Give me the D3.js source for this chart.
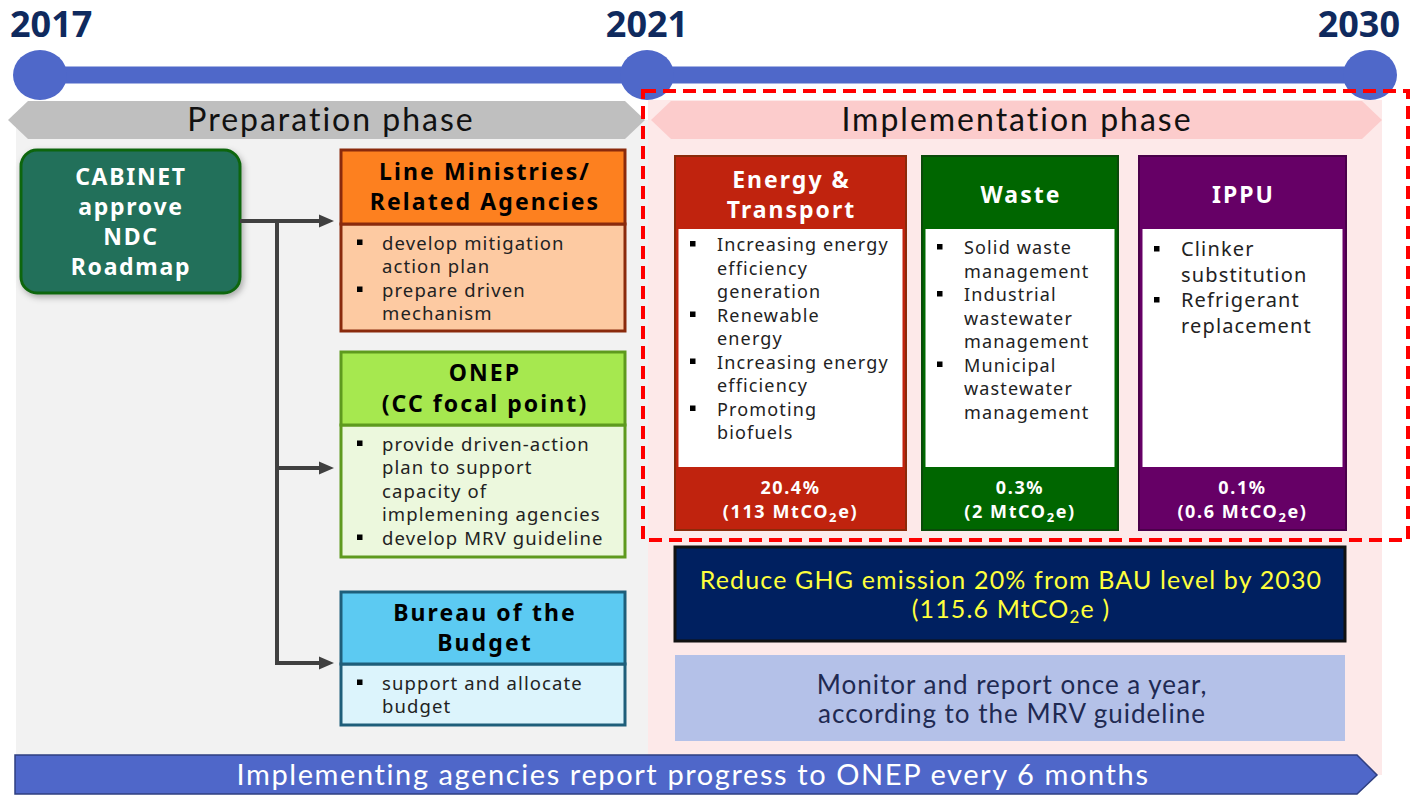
<!DOCTYPE html>
<html>
<head>
<meta charset="utf-8">
<script src="https://cdn.jsdelivr.net/npm/d3@7"></script>
<style>
  body { margin: 0; background: #fff; }
  svg { display: block; }
</style>
</head>
<body>
<svg id="chart" width="1412" height="795"></svg>
<script>
// ---- data ----
var years = [2017, 2021, 2030];
var phaseNames = ["Preparation phase", "Implementation phase"];
var cabinetLines = ["CABINET", "approve", "NDC", "Roadmap"];
var agencyTitles = [["Line Ministries/", "Related Agencies"], ["ONEP", "(CC focal point)"], ["Bureau of the", "Budget"]];
var agencyTasks = [
  [["develop mitigation", "action plan"], ["prepare driven", "mechanism"]],
  [["provide driven-action", "plan to support", "capacity of", "implemening agencies"], ["develop MRV guideline"]],
  [["support and allocate", "budget"]]
];
var sectorNames = [["Energy &", "Transport"], ["Waste"], ["IPPU"]];
var sectorMeasures = [
  [["Increasing energy", "efficiency", "generation"], ["Renewable", "energy"], ["Increasing energy", "efficiency"], ["Promoting", "biofuels"]],
  [["Solid waste", "management"], ["Industrial", "wastewater", "management"], ["Municipal", "wastewater", "management"]],
  [["Clinker", "substitution"], ["Refrigerant", "replacement"]]
];
var sectorShare = ["20.4%", "0.3%", "0.1%"];
var sectorMt = ["113", "2", "0.6"];
var targetLine = "Reduce GHG emission 20% from BAU level by 2030";
var targetMt = "115.6";
var monitorLines = ["Monitor and report once a year,", "according to the MRV guideline"];
var reportText = "Implementing agencies report progress to ONEP every 6 months";

// ---- layout ----
var svg = d3.select("#chart");
var x = d3.scaleLinear().domain(years).range([40, 647, 1370]);
var SANS = "'Noto Sans', 'Open Sans', sans-serif";
var NARROW = "Lato, 'Noto Sans', sans-serif";

var defs = svg.append("defs");
var sh = defs.append("filter").attr("id", "shadow").attr("x", "-10%").attr("y", "-10%").attr("width", "130%").attr("height", "130%");
sh.append("feDropShadow").attr("dx", 2).attr("dy", 3).attr("stdDeviation", 3).attr("flood-color", "#000").attr("flood-opacity", 0.3);

function chevron(x0, x1, y0, y1, n) {
  var ym = (y0 + y1) / 2;
  return [[x0, ym], [x0 + n, y0], [x1 - n, y0], [x1, ym], [x1 - n, y1], [x0 + n, y1]].join(" ");
}

// one <text> with a tspan per line
function multiline(g, lines, x0, y0, step) {
  var t = g.append("text").attr("x", x0).attr("y", y0);
  t.selectAll("tspan").data(lines).enter().append("tspan")
    .attr("x", x0).attr("dy", function(d, i) { return i == 0 ? 0 : step; })
    .text(function(d) { return d; });
  return t;
}

// phase panels
svg.append("rect").attr("x", 16).attr("y", 120).attr("width", x(2021) - 15).attr("height", 640).attr("fill", "#f2f2f2");
svg.append("rect").attr("x", x(2021) + 1).attr("y", 100).attr("width", 1382 - x(2021) - 1).attr("height", 675).attr("fill", "#fde9e9");

svg.append("polygon").attr("points", chevron(8, 645, 101, 139, 20)).attr("fill", "#bfbfbf");
svg.append("polygon").attr("points", chevron(651, 1382, 101, 139, 20)).attr("fill", "#fccccc");
svg.selectAll("text.phase").data(phaseNames).enter().append("text")
  .attr("class", "phase")
  .attr("x", function(d, i) { return i == 0 ? 331 : 1017; })
  .attr("y", 131)
  .attr("text-anchor", "middle")
  .attr("font-family", NARROW).attr("font-size", 32).attr("letter-spacing", 2).attr("fill", "#111")
  .text(function(d) { return d; });

// timeline
svg.append("line").attr("x1", x(2017)).attr("x2", x(2030)).attr("y1", 75).attr("y2", 75)
  .attr("stroke", "#4f68c9").attr("stroke-width", 17);
svg.selectAll("ellipse.yr").data(years).enter().append("ellipse")
  .attr("class", "yr")
  .attr("cx", function(d) { return x(d); }).attr("cy", 75)
  .attr("rx", 27).attr("ry", 25).attr("fill", "#4f68c9");
svg.selectAll("text.yr").data(years).enter().append("text")
  .attr("class", "yr")
  .attr("x", function(d, i) { return i == 0 ? x(d) - 30 : i == years.length - 1 ? x(d) + 30 : x(d); })
  .attr("y", 37)
  .attr("text-anchor", function(d, i) { return i == 0 ? "start" : i == years.length - 1 ? "end" : "middle"; })
  .attr("font-family", SANS).attr("font-weight", "bold").attr("font-size", 36).attr("fill", "#0f2a5e")
  .text(function(d) { return d; });

// red dashed frame
svg.append("rect").attr("x", 643).attr("y", 91).attr("width", 765).attr("height", 449)
  .attr("fill", "none").attr("stroke", "#ff0000").attr("stroke-width", 4).attr("stroke-dasharray", "13 7");

// cabinet
svg.append("rect").attr("x", 21).attr("y", 150).attr("width", 219).attr("height", 143).attr("rx", 16)
  .attr("fill", "#236f5a").attr("stroke", "#116611").attr("stroke-width", 3).attr("filter", "url(#shadow)");
multiline(svg, cabinetLines, 131, 184.5, 30.3)
  .attr("text-anchor", "middle")
  .attr("font-family", SANS).attr("font-weight", "bold").attr("font-size", 23).attr("letter-spacing", 1.7).attr("fill", "#fff");

// agency boxes
var agencyTop = [150, 352, 592];
var headH = [74, 73, 72];
var bodyH = [107, 132, 61];
var headFill = ["#fd801f", "#a6e84f", "#5ccaf2"];
var bodyFill = ["#fdcaa2", "#ecf8dd", "#dcf4fc"];
var boxStroke = ["#8a2a0c", "#5e9a1e", "#1e5e7a"];
var arrowY = [221, 468, 663];

// connectors
var conn = svg.append("g").attr("stroke", "#404040").attr("stroke-width", 4).attr("fill", "none");
conn.append("path").attr("d", "M240," + arrowY[0] + "H322");
conn.append("path").attr("d", "M277," + arrowY[0] + "V" + arrowY[2] + "H322");
conn.append("path").attr("d", "M277," + arrowY[1] + "H322");
svg.selectAll("polygon.arr").data(arrowY).enter().append("polygon")
  .attr("class", "arr")
  .attr("points", function(d) { return [[319, d - 6.5], [334, d], [319, d + 6.5]].join(" "); })
  .attr("fill", "#404040");

var ag = svg.selectAll("g.agency").data(agencyTitles).enter().append("g").attr("class", "agency");
ag.append("rect").attr("x", 341).attr("y", function(d, i) { return agencyTop[i] + headH[i]; })
  .attr("width", 284).attr("height", function(d, i) { return bodyH[i]; })
  .attr("fill", function(d, i) { return bodyFill[i]; }).attr("stroke", function(d, i) { return boxStroke[i]; }).attr("stroke-width", 3);
ag.append("rect").attr("x", 341).attr("y", function(d, i) { return agencyTop[i]; })
  .attr("width", 284).attr("height", function(d, i) { return headH[i]; })
  .attr("fill", function(d, i) { return headFill[i]; }).attr("stroke", function(d, i) { return boxStroke[i]; }).attr("stroke-width", 3);
ag.each(function(d, i) {
  var g = d3.select(this);
  var cy = agencyTop[i] + headH[i] / 2;
  multiline(g, d, 485, cy + 8 - (d.length - 1) / 2 * 30.5, 30.5)
    .attr("text-anchor", "middle").attr("font-family", SANS).attr("font-weight", "bold")
    .attr("font-size", 23).attr("letter-spacing", 2.1).attr("fill", "#000");
  var line = 0;
  var by = agencyTop[i] + headH[i] + 25.5;
  agencyTasks[i].forEach(function(item) {
    g.append("rect").attr("x", 357).attr("y", by + line * 23.5 - 10).attr("width", 5.5).attr("height", 5.5).attr("fill", "#000");
    multiline(g, item, 382, by + line * 23.5, 23.5)
      .attr("font-family", SANS).attr("font-size", 18.5).attr("letter-spacing", 1.1).attr("fill", "#222");
    line += item.length;
  });
});

// sector boxes
var sectorX = [675, 922, 1139];
var sectorW = [231, 196, 207];
var sectorFill = ["#c0230e", "#006600", "#660066"];
var sectorStroke = ["#8b2a0a", "#0a4a0a", "#4a004a"];
var sectorFont = [18, 18, 20];
var sectorStep = [23.5, 23.5, 25.5];
var sectorFirst = [251, 254, 256];

var sg = svg.selectAll("g.sector").data(sectorNames).enter().append("g").attr("class", "sector");
sg.append("rect").attr("x", function(d, i) { return sectorX[i]; }).attr("y", 156)
  .attr("width", function(d, i) { return sectorW[i]; }).attr("height", 374)
  .attr("fill", function(d, i) { return sectorFill[i]; }).attr("stroke", function(d, i) { return sectorStroke[i]; }).attr("stroke-width", 2);
sg.append("rect").attr("x", function(d, i) { return sectorX[i] + 3.5; }).attr("y", 229)
  .attr("width", function(d, i) { return sectorW[i] - 7; }).attr("height", 238).attr("fill", "#fff");
sg.each(function(d, i) {
  var g = d3.select(this);
  var cx = sectorX[i] + sectorW[i] / 2;
  multiline(g, d, cx + 1, 203 - (d.length - 1) / 2 * 30, 30)
    .attr("text-anchor", "middle").attr("font-family", SANS).attr("font-weight", "bold")
    .attr("font-size", 23).attr("letter-spacing", 2).attr("fill", "#fff");
  var line = 0;
  sectorMeasures[i].forEach(function(item) {
    g.append("rect").attr("x", sectorX[i] + 15).attr("y", sectorFirst[i] + line * sectorStep[i] - 10)
      .attr("width", 5.5).attr("height", 5.5).attr("fill", "#000");
    multiline(g, item, sectorX[i] + 42, sectorFirst[i] + line * sectorStep[i], sectorStep[i])
      .attr("font-family", SANS).attr("font-size", sectorFont[i]).attr("letter-spacing", 1.15).attr("fill", "#222");
    line += item.length;
  });
  var t2 = g.append("text").attr("x", cx).attr("y", 494).attr("text-anchor", "middle")
    .attr("font-family", SANS).attr("font-weight", "bold").attr("font-size", 18).attr("letter-spacing", 1.6).attr("fill", "#fff");
  t2.append("tspan").attr("x", cx).text(sectorShare[i]);
  t2.append("tspan").attr("x", cx).attr("dy", 24).text("(" + sectorMt[i] + " MtCO");
  t2.append("tspan").attr("font-size", 13).attr("dy", 4).text("2");
  t2.append("tspan").attr("dy", -4).text("e)");
});

// target box
svg.append("rect").attr("x", 675).attr("y", 547).attr("width", 670).attr("height", 94)
  .attr("fill", "#002060").attr("stroke", "#111").attr("stroke-width", 3);
var tt = svg.append("text").attr("x", 1011).attr("y", 589).attr("text-anchor", "middle")
  .attr("font-family", NARROW).attr("font-size", 25).attr("letter-spacing", 1.15).attr("fill", "#ffff3c");
tt.append("tspan").attr("x", 1011).text(targetLine);
tt.append("tspan").attr("x", 1011).attr("dy", 29).text("(" + targetMt + " MtCO");
tt.append("tspan").attr("font-size", 17).attr("dy", 5).text("2");
tt.append("tspan").attr("dy", -5).text("e )");

// monitor box
svg.append("rect").attr("x", 675).attr("y", 655).attr("width", 670).attr("height", 86).attr("fill", "#b4c1e8");
multiline(svg, monitorLines, 1012, 694, 29)
  .attr("text-anchor", "middle").attr("font-family", NARROW).attr("font-size", 26).attr("letter-spacing", 1).attr("fill", "#1f2a52");

// bottom arrow
svg.append("polygon").attr("points", [[15, 755], [1357, 755], [1377, 775], [1357, 794], [15, 794]].join(" "))
  .attr("fill", "#4f67c9").attr("stroke", "#2f3f80").attr("stroke-width", 1.5);
svg.append("text").attr("x", 693).attr("y", 785).attr("text-anchor", "middle")
  .attr("font-family", NARROW).attr("font-size", 29).attr("letter-spacing", 1.6).attr("fill", "#fff").text(reportText);
</script>
</body>
</html>
